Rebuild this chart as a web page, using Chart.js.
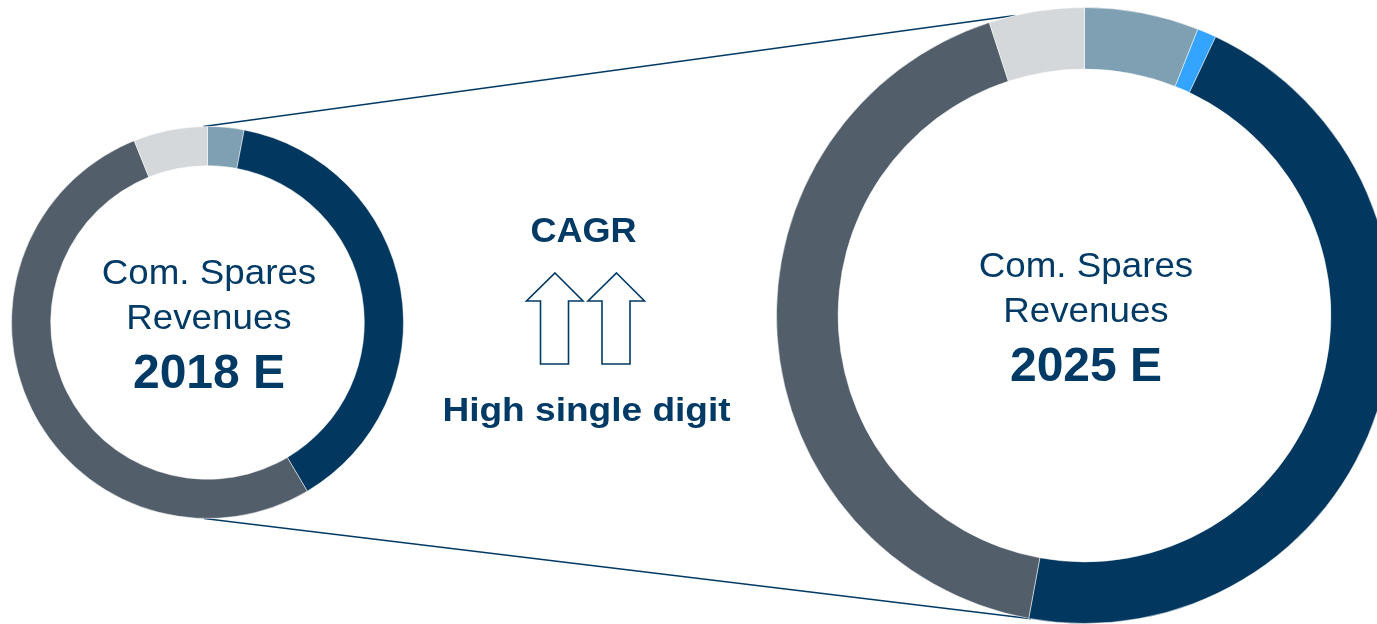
<!DOCTYPE html>
<html>
<head>
<meta charset="utf-8">
<script src="https://cdn.jsdelivr.net/npm/chart.js@4.4.1/dist/chart.umd.min.js"></script>
<style>
  html, body { margin: 0; padding: 0; width: 1377px; height: 624px; overflow: hidden; background: #fff; }
  canvas { position: absolute; }
  #overlay { left: 0; top: 0; }
  #c2018 { left: 11px; top: 126px; }
  #c2025 { left: 776px; top: 7px; }
</style>
</head>
<body>
<canvas id="overlay" width="1377" height="624"></canvas>
<canvas id="c2018" width="393" height="393"></canvas>
<canvas id="c2025" width="617" height="617"></canvas>
<script>
// segment names are not shown in the picture
const segments = ['Segment 1', 'Segment 2', 'Segment 3', 'Segment 4', 'Segment 5'];
const share2018 = [3.0, 0, 38.5, 52.4, 6.1];
const share2025 = [6.0, 1.0, 45.9, 42.1, 5.0];
const segmentColors = ['#7f9fb2', '#33a4ff', '#02385f', '#525e6a', '#d4d8db'];

const titleLines = ['Com. Spares', 'Revenues'];
const years = ['2018 E', '2025 E'];
const cagrTitle = 'CAGR';
const cagrText = 'High single digit';

const navy = '#023a66';
const fontName = '"Liberation Sans", Arial, sans-serif';

function drawText(ctx, s, x, y, font, sx) {
  ctx.save();
  ctx.font = font;
  ctx.translate(x, y);
  ctx.scale(sx, 1);
  ctx.fillText(s, 0, 0);
  ctx.restore();
}

function centerText(year) {
  return {
    id: 'centerText',
    afterDraw(chart) {
      const ctx = chart.ctx;
      const arc = chart.getDatasetMeta(0).data[0];
      const cx = arc.x + 1.5, cy = arc.y;
      ctx.save();
      ctx.fillStyle = navy;
      ctx.textAlign = 'center';
      ctx.textBaseline = 'alphabetic';
      drawText(ctx, titleLines[0], cx, cy - 39, '35px ' + fontName, 1.05);
      drawText(ctx, titleLines[1], cx, cy + 6.5, '35px ' + fontName, 1.05);
      drawText(ctx, year, cx, cy + 65.5, 'bold 48px ' + fontName, 1);
      ctx.restore();
    }
  };
}

function makeChart(id, values, year) {
  return new Chart(document.getElementById(id), {
    type: 'doughnut',
    data: {
      labels: segments,
      datasets: [{
        data: values,
        backgroundColor: segmentColors,
        borderColor: 'rgba(255,255,255,0.5)',
        borderWidth: 1,
      }],
    },
    options: {
      responsive: false,
      animation: false,
      cutout: '80%',
      events: [],
      layout: { padding: 0 },
      plugins: {
        legend: { display: false },
        tooltip: { enabled: false },
      },
    },
    plugins: [centerText(year)],
  });
}

const chart2018 = makeChart('c2018', share2018, years[0]);
const chart2025 = makeChart('c2025', share2025, years[1]);

// point on a donut's outer edge, page coordinates, angle clockwise from top
function edge(chart, deg) {
  const arc = chart.getDatasetMeta(0).data[0];
  const c = chart.canvas;
  const r = arc.outerRadius;
  const a = deg * Math.PI / 180;
  return { x: c.offsetLeft + arc.x + r * Math.sin(a), y: c.offsetTop + arc.y - r * Math.cos(a) };
}

function arrow(ctx, x) {
  // x = tip position
  ctx.beginPath();
  ctx.moveTo(x, 273);
  ctx.lineTo(x + 28, 301);
  ctx.lineTo(x + 13.5, 301);
  ctx.lineTo(x + 13.5, 364);
  ctx.lineTo(x - 14.5, 364);
  ctx.lineTo(x - 14.5, 301);
  ctx.lineTo(x - 28.5, 301);
  ctx.closePath();
  ctx.fillStyle = '#fff';
  ctx.fill();
  ctx.stroke();
}

const ov = document.getElementById('overlay').getContext('2d');
ov.strokeStyle = navy;
ov.lineWidth = 1.5;
let p = edge(chart2018, -1.2), q = edge(chart2025, 347);
ov.beginPath(); ov.moveTo(p.x, p.y); ov.lineTo(q.x, q.y); ov.stroke();
p = edge(chart2018, 181); q = edge(chart2025, 190);
ov.beginPath(); ov.moveTo(p.x, p.y); ov.lineTo(q.x, q.y); ov.stroke();

ov.lineWidth = 1.6;
arrow(ov, 555);
arrow(ov, 616.5);

ov.fillStyle = navy;
ov.textAlign = 'center';
drawText(ov, cagrTitle, 583.5, 241.5, 'bold 35px ' + fontName, 1.03);
drawText(ov, cagrText, 586.5, 420.5, 'bold 34px ' + fontName, 1.09);
</script>
</body>
</html>
